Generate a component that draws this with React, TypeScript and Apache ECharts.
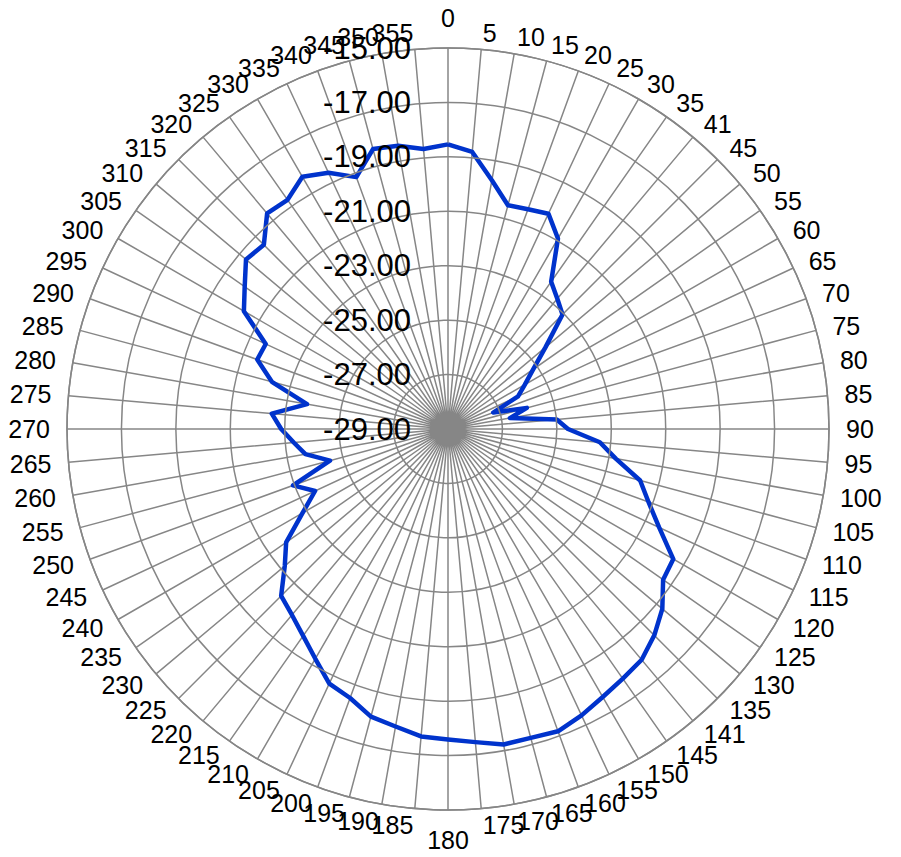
import React, { useEffect, useRef } from "react";
import * as echarts from "echarts";

// Angular categories (clockwise from the top), as printed on the chart
const ANGLE_LABELS = [
  "0", "5", "10", "15", "20", "25", "30", "35", "41", "45", "50", "55",
  "60", "65", "70", "75", "80", "85", "90", "95", "100", "105", "110", "115",
  "120", "125", "130", "135", "141", "145", "150", "155", "160", "165", "170", "175",
  "180", "185", "190", "195", "200", "205", "210", "215", "220", "225", "230", "235",
  "240", "245", "250", "255", "260", "265", "270", "275", "280", "285", "290", "295",
  "300", "305", "310", "315", "320", "325", "330", "335", "340", "345", "350", "355",
];

// Measured level (dB) at each angular category
const VALUES_DB = [
  -18.54, -18.78, -19.72, -20.49, -20.41, -20.27, -20.92, -22.39, -22.75, -23.05, -24.32, -25.18,
  -25.74, -26.16, -27.23, -26.0, -26.69, -24.99, -24.59, -23.4, -22.74, -21.69, -21.16, -20.44,
  -19.44, -19.35, -18.72, -18.28, -17.93, -17.8, -17.63, -17.39, -17.18, -17.25, -17.23, -17.45,
  -17.59, -17.66, -17.9, -18.06, -18.48, -18.68, -19.25, -19.72, -20.08, -20.33, -21.17, -21.74,
  -22.83, -23.61, -22.94, -24.51, -23.68, -23.31, -22.87, -22.5, -23.74, -22.3, -21.54, -21.61,
  -20.34, -19.88, -19.31, -19.43, -18.66, -18.72, -18.3, -18.61, -19.15, -18.35, -18.43, -18.67,
];

// Radial scale (dB)
const RADIAL_MIN = -29;
const RADIAL_MAX = -15;
const RADIAL_STEP = 2;

export default function App() {
  const ref = useRef<HTMLDivElement>(null);

  useEffect(() => {
    document.body.style.margin = "0";
    const chart = echarts.init(ref.current!, undefined, { renderer: "svg" });

    const n = ANGLE_LABELS.length;
    const step = 360 / n;
    const R = 381;
    const M = 17;
    const FS = 25;
    const FONT = "'Liberation Sans', Arial, sans-serif";
    const digitW = 0.556 * FS;
    const base = { fontSize: FS, fontFamily: FONT, color: "#000" };

    const rich: any = {
      n: { ...base, lineHeight: 0 },
      c: { ...base, lineHeight: 26 },
    };
    for (let k = 1; k <= 3; k++) {
      rich["l" + k] = { ...base, lineHeight: 0, padding: [0, 0, 0, k * digitW] };
      rich["r" + k] = { ...base, lineHeight: 0, padding: [0, k * digitW, 0, 0] };
    }

    const labelFor = (val: number) => {
      const idx = Math.round(val / step);
      if (idx < 0 || idx >= n) return "";
      const text = ANGLE_LABELS[idx];
      const a = idx * step;
      let key = "n";
      if (a === 0 || a === 180) key = "c";
      else {
        const s = Math.sin((a * Math.PI) / 180);
        if (Math.abs(s) * ((R + M) / R) < 0.3) {
          key = (s > 0 ? "l" : "r") + text.length;
        }
      }
      return `{${key}|${text}}`;
    };

    const data: number[][] = VALUES_DB.map((v, i) => [v - RADIAL_MIN, i * step]);
    data.push([VALUES_DB[0] - RADIAL_MIN, 360]);

    const gridColor = "#868686";

    chart.setOption({
      animation: false,
      backgroundColor: "#fff",
      polar: { center: [448, 429], radius: R },
      angleAxis: {
        type: "value",
        min: 0,
        max: 360,
        interval: step,
        startAngle: 90,
        clockwise: true,
        axisLine: { show: true, lineStyle: { color: gridColor, width: 1.5 } },
        axisTick: { show: false },
        splitLine: { show: true, lineStyle: { color: gridColor, width: 1.5 } },
        axisLabel: {
          show: true,
          margin: M,
          fontSize: FS,
          fontFamily: FONT,
          color: "#000",
          lineHeight: 0,
          formatter: labelFor,
          rich,
        },
      },
      radiusAxis: {
        type: "value",
        min: 0,
        max: RADIAL_MAX - RADIAL_MIN,
        interval: RADIAL_STEP,
        axisLine: { show: false },
        axisTick: { show: false },
        splitLine: { show: true, lineStyle: { color: gridColor, width: 1.5 } },
        axisLabel: {
          show: true,
          margin: 37,
          fontSize: 31,
          fontFamily: FONT,
          color: "#000",
          formatter: (v: number) => (v + RADIAL_MIN).toFixed(2),
        },
        z: 3,
      },
      series: [
        {
          type: "line",
          coordinateSystem: "polar",
          data,
          symbol: "none",
          smooth: false,
          lineStyle: { color: "#0033CC", width: 4.5, join: "round" },
          z: 2,
        },
      ],
    });

    return () => chart.dispose();
  }, []);

  return (
    <div
      ref={ref}
      style={{ position: "absolute", left: 0, top: 0, width: 901, height: 857 }}
    />
  );
}
